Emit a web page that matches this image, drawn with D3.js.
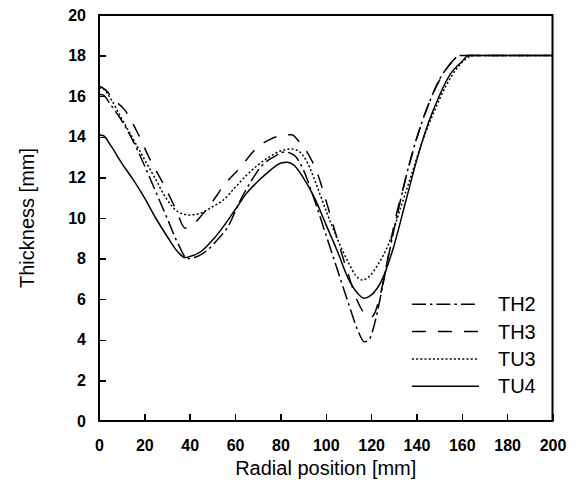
<!DOCTYPE html>
<meta charset="utf-8">
<style>
body { margin: 0; background: #fff; }
.axis path { display: none; }
.axis line { stroke: #000; stroke-width: 1.5; shape-rendering: crispEdges; }
.axis text { font: bold 16px "Liberation Sans", Arial, sans-serif; fill: #000; }
.title { font: 20px "Liberation Sans", Arial, sans-serif; fill: #000; }
.legend text { font: 20px "Liberation Sans", Arial, sans-serif; fill: #000; }
.series { fill: none; stroke: #000; stroke-width: 1.5; }
</style>
<svg width="578" height="491"></svg>
<script src="https://d3js.org/d3.v7.min.js"></script>
<script>

// radial position [mm] and thickness [mm]
var th2X = [0, 2, 5, 10, 15, 20, 25, 30, 35, 39, 42, 47, 52, 57, 62, 67, 72, 77, 82, 86, 90, 95, 100, 105, 110, 114, 117, 119, 122, 125, 128, 132, 136, 140, 145, 150, 155, 159, 200];
var th2Y = [16.1, 16.05, 15.6, 14.8, 13.8, 12.6, 11.3, 10.0, 8.7, 8.0, 8.05, 8.35, 8.9, 9.6, 10.8, 11.8, 12.6, 13.0, 13.25, 13.1, 12.4, 10.9, 9.2, 7.5, 5.8, 4.5, 3.9, 4.0, 5.0, 6.6, 8.3, 10.4, 12.3, 13.9, 15.5, 16.8, 17.6, 18.0, 18.0];

var th3X = [0, 3, 6, 11.5, 17, 22, 29, 34, 38, 40, 45, 50, 55, 62, 70, 75, 80, 85, 88, 92, 96, 100, 105, 110, 114, 117, 119.5, 121, 124, 127, 130, 134, 138, 143, 148, 153, 157, 160, 200];
var th3Y = [16.5, 16.3, 15.9, 15.3, 14.2, 13.0, 11.55, 10.4, 9.5, 9.55, 10.1, 10.8, 11.6, 12.45, 13.5, 13.85, 14.05, 14.1, 13.8, 13.2, 12.3, 10.9, 9.0, 7.2, 5.9, 5.3, 5.1, 5.2, 6.2, 7.8, 9.6, 11.4, 13.1, 14.9, 16.3, 17.3, 17.85, 18.0, 18.0];

var tu3X = [0, 2, 5, 10, 15, 20, 25, 30, 35, 40, 45, 50, 55, 60, 65, 70, 75, 80, 85, 88, 92, 96, 100, 105, 110, 113, 116, 119, 123, 128, 133, 138, 143, 148, 153, 158, 162, 165, 200];
var tu3Y = [16.4, 16.35, 15.9, 14.9, 13.9, 12.9, 11.9, 10.9, 10.3, 10.15, 10.25, 10.55, 10.9, 11.5, 12.1, 12.6, 13.0, 13.3, 13.4, 13.3, 12.7, 11.6, 10.4, 9.0, 7.8, 7.2, 6.95, 7.1, 7.7, 8.8, 10.5, 12.2, 13.9, 15.3, 16.5, 17.4, 17.85, 18.0, 18.0];

var tu4X = [0, 2, 5, 10, 15, 20, 25, 30, 35, 38, 40, 45, 50, 55, 60, 65, 70, 75, 80, 83, 86, 90, 95, 100, 105, 110, 114, 117, 120, 125, 130, 135, 140, 145, 150, 155, 160, 163, 200];
var tu4Y = [14.1, 14.05, 13.6, 12.7, 11.9, 11.0, 10.0, 9.1, 8.3, 8.05, 8.1, 8.35, 8.9, 9.6, 10.4, 11.2, 11.8, 12.3, 12.7, 12.75, 12.6, 12.0, 11.0, 9.7, 8.4, 7.0, 6.3, 6.05, 6.2, 7.0, 8.6, 10.7, 12.8, 14.6, 16.0, 17.1, 17.7, 18.0, 18.0];

var names = ["TH2", "TH3", "TU3", "TU4"];
var dashes = ["14,4,2.5,4", "14,12", "2,2.2", null];
var xTicks = d3.range(0, 201, 20);
var yTicks = d3.range(0, 21, 2);

var series = [
  {name: names[0], x: th2X, y: th2Y},
  {name: names[1], x: th3X, y: th3Y},
  {name: names[2], x: tu3X, y: tu3Y},
  {name: names[3], x: tu4X, y: tu4Y}
];

var svg = d3.select("svg"),
    margin = {top: 15, right: 25.5, bottom: 70, left: 99},
    width = svg.attr("width") - margin.left - margin.right,
    height = svg.attr("height") - margin.top - margin.bottom;

var x = d3.scaleLinear().domain([0, 200]).range([0, width]);
var y = d3.scaleLinear().domain([0, 20]).range([height, 0]);

var g = svg.append("g")
    .attr("transform", "translate(" + margin.left + "," + margin.top + ")");

g.append("g")
    .attr("class", "axis")
    .attr("transform", "translate(0," + height + ")")
    .call(d3.axisBottom(x).tickValues(xTicks).tickSizeInner(-7).tickSizeOuter(0).tickPadding(19));

g.append("g")
    .attr("class", "axis")
    .call(d3.axisLeft(y).tickValues(yTicks).tickSizeInner(-7).tickSizeOuter(0).tickPadding(13));

var line = d3.line()
    .x(function(d) { return x(d[0]); })
    .y(function(d) { return y(d[1]); })
    .curve(d3.curveMonotoneX);

series.forEach(function(s, i) {
  g.append("path")
      .attr("class", "series")
      .attr("d", line(d3.zip(s.x, s.y)))
      .attr("stroke-dasharray", dashes[i]);
});

g.append("rect")
    .attr("width", width)
    .attr("height", height)
    .attr("fill", "none")
    .attr("stroke", "#000")
    .attr("stroke-width", 2);

// legend
var legend = g.append("g")
    .attr("class", "legend")
    .attr("transform", "translate(" + (x(138)) + "," + (y(5.75)) + ")")
  .selectAll("g")
    .data(names)
  .enter().append("g")
    .attr("transform", function(d, i) { return "translate(0," + (i * 27.3) + ")"; });

legend.append("line")
    .attr("x1", 0)
    .attr("x2", 67)
    .attr("stroke", "#000")
    .attr("stroke-width", 1.5)
    .attr("stroke-dasharray", function(d, i) { return dashes[i]; });

legend.append("text")
    .attr("x", 86)
    .attr("dy", "0.36em")
    .text(function(d) { return d; });

svg.append("text")
    .attr("class", "title")
    .attr("x", margin.left + width / 2)
    .attr("y", 475)
    .attr("text-anchor", "middle")
    .text("Radial position [mm]");

svg.append("text")
    .attr("class", "title")
    .attr("transform", "translate(34," + (margin.top + height / 2) + ") rotate(-90)")
    .attr("text-anchor", "middle")
    .text("Thickness [mm]");

</script>
